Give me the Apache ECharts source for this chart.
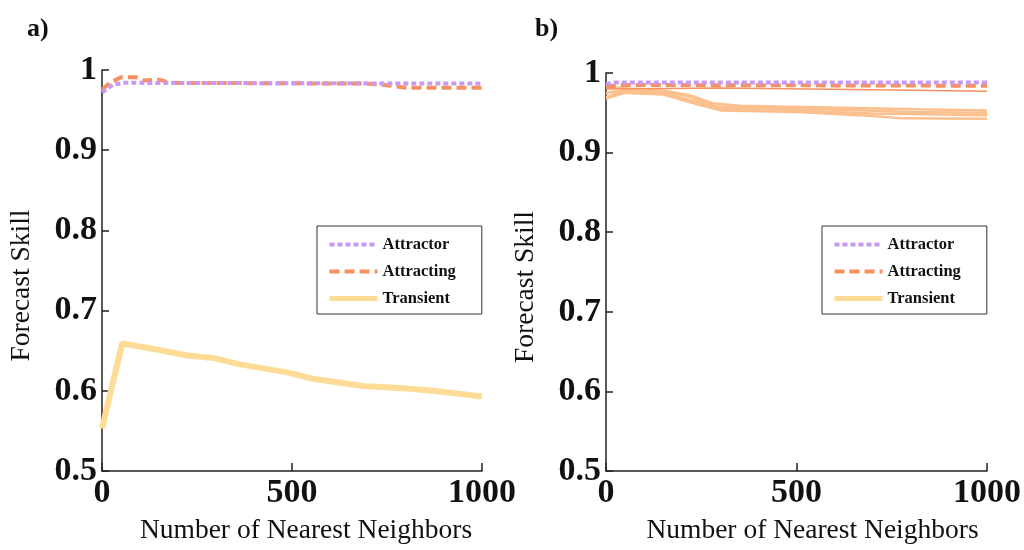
<!DOCTYPE html>
<html>
<head>
<meta charset="utf-8">
<script src="https://cdn.jsdelivr.net/npm/echarts@6/dist/echarts.min.js"></script>
<style>
  html, body { margin: 0; padding: 0; background: #fff; }
  #chart { width: 1024px; height: 550px; }
</style>
</head>
<body>
<div id="chart"></div>
<script>
// Forecast skill vs number of nearest neighbors, [neighbors, skill] pairs
const xTicks = [0, 500, 1000];
const yTicks = [0.5, 0.6, 0.7, 0.8, 0.9, 1];

// panel a)
const aAttractor = [[0, 0.972], [30, 0.982], [60, 0.984], [1000, 0.983]];
const aAttracting = [[0, 0.975], [20, 0.984], [50, 0.991], [90, 0.991], [110, 0.987], [150, 0.988], [180, 0.984],
  [700, 0.983], [750, 0.981], [800, 0.978], [1000, 0.978]];
const aTransient = [[0, 0.553], [53, 0.659], [126, 0.653], [224, 0.644], [292, 0.641], [363, 0.633], [487, 0.623],
  [555, 0.615], [687, 0.606], [803, 0.603], [871, 0.600], [1000, 0.593]];

// panel b)
const bAttractor = [[0, 0.986], [20, 0.988], [1000, 0.988]];
const bAttracting = [[0, 0.982], [30, 0.985], [1000, 0.984]];
const bAttractingLow = [[0, 0.980], [300, 0.981], [700, 0.979], [1000, 0.977]];
const bTransient1 = [[0, 0.982], [50, 0.981], [150, 0.978], [220, 0.972], [280, 0.962], [350, 0.959], [550, 0.957], [750, 0.955], [1000, 0.953]];
const bTransient2 = [[0, 0.975], [50, 0.979], [150, 0.977], [220, 0.970], [290, 0.958], [400, 0.956], [600, 0.954], [800, 0.951], [1000, 0.950]];
const bTransient3 = [[0, 0.970], [50, 0.977], [150, 0.975], [220, 0.966], [300, 0.955], [500, 0.953], [700, 0.949], [1000, 0.947]];
const bTransient4 = [[0, 0.968], [50, 0.975], [150, 0.973], [230, 0.962], [300, 0.953], [500, 0.951], [700, 0.946], [780, 0.943], [1000, 0.9425]];

const PURPLE = '#c799f5';
const ORANGE = '#f6915f';
const YELLOW = '#ffdb98';
const PEACH = '#fcc08f';
const SERIF = '"Liberation Serif", "Times New Roman", serif';

const chart = echarts.init(document.getElementById('chart'), null, { renderer: 'canvas' });

function xAxisFor(gridIndex, namePad) {
  return {
    type: 'value', gridIndex, min: xTicks[0], max: xTicks[xTicks.length - 1], interval: 500,
    name: 'Number of Nearest Neighbors', nameLocation: 'middle', nameGap: 46,
    nameTextStyle: { fontFamily: SERIF, fontSize: 27.5, color: '#111', padding: namePad },
    axisLine: { show: true, onZero: false, lineStyle: { color: '#222', width: 1.5 } },
    axisTick: { show: true, inside: true, length: 8, lineStyle: { color: '#222', width: 1.5 } },
    axisLabel: { fontFamily: SERIF, fontSize: 34, fontWeight: 'bold', color: '#111', margin: 5,
      formatter: v => String(v) },
    splitLine: { show: false }
  };
}
function yAxisFor(gridIndex) {
  return {
    type: 'value', gridIndex, min: yTicks[0], max: yTicks[yTicks.length - 1], interval: 0.1,
    name: 'Forecast Skill', nameLocation: 'middle', nameGap: 66,
    nameTextStyle: { fontFamily: SERIF, fontSize: 27.5, color: '#111', padding: [0, 30, 0, 0] },
    axisLine: { show: true, onZero: false, lineStyle: { color: '#222', width: 1.5 } },
    axisTick: { show: true, inside: true, length: 7, lineStyle: { color: '#222', width: 1.5 } },
    axisLabel: { fontFamily: SERIF, fontSize: 34, fontWeight: 'bold', color: '#111', margin: 5,
      formatter: v => String(Math.round(v * 10) / 10) },
    splitLine: { show: false }
  };
}
function legendFor(left) {
  return {
    orient: 'vertical', left, top: 226,
    data: [
      { name: 'Attractor', lineStyle: { width: 4, type: [5, 3] } },
      { name: 'Attracting', lineStyle: { width: 4, type: [10, 5] } },
      { name: 'Transient', lineStyle: { color: YELLOW, width: 5, type: 'solid' } }
    ],
    itemWidth: 48, itemHeight: 17, itemGap: 10,
    itemStyle: { opacity: 0 },
    padding: [10, 26, 7, 10],
    borderColor: '#333', borderWidth: 1, backgroundColor: '#fff',
    selectedMode: false,
    textStyle: { fontFamily: SERIF, fontSize: 16.5, fontWeight: 'bold', color: '#111' }
  };
}
function line(name, data, axis, color, width, type, z) {
  return {
    type: 'line', name, data, xAxisIndex: axis, yAxisIndex: axis,
    symbol: 'none', silent: true, animation: false, z,
    lineStyle: { color, width, type },
    itemStyle: { color }
  };
}

chart.setOption({
  animation: false,
  backgroundColor: '#fff',
  grid: [
    { left: 102, top: 70, width: 380, height: 401 },
    { left: 606, top: 73, width: 384, height: 399 }
  ],
  xAxis: [xAxisFor(0, [0, 0, 0, 28]), xAxisFor(1, [0, 0, 0, 32])],
  yAxis: [yAxisFor(0), yAxisFor(1)],
  legend: [legendFor(317), legendFor(822)],
  graphic: [
    { type: 'text', left: 27, top: 16, style: { text: 'a)', font: 'bold 26px ' + SERIF, fill: '#111' } },
    { type: 'text', left: 535, top: 16, style: { text: 'b)', font: 'bold 26px ' + SERIF, fill: '#111' } }
  ],
  series: [
    line('Transient', aTransient, 0, YELLOW, 6, 'solid', 2),
    line('Attracting', aAttracting, 0, ORANGE, 4, [10, 5], 3),
    line('Attractor', aAttractor, 0, PURPLE, 4, [5, 3], 4),

    line('Transient', bTransient1, 1, PEACH, 2.5, 'solid', 2),
    line('Transient', bTransient2, 1, PEACH, 2.5, 'solid', 2),
    line('Transient', bTransient3, 1, PEACH, 2.5, 'solid', 2),
    line('Transient', bTransient4, 1, PEACH, 2.5, 'solid', 2),
    line('Attracting', bAttractingLow, 1, ORANGE, 1.5, 'solid', 3),
    line('Attracting', bAttracting, 1, ORANGE, 4, [10, 5], 3),
    line('Attractor', bAttractor, 1, PURPLE, 4, [5, 3], 4)
  ]
});
</script>
</body>
</html>
